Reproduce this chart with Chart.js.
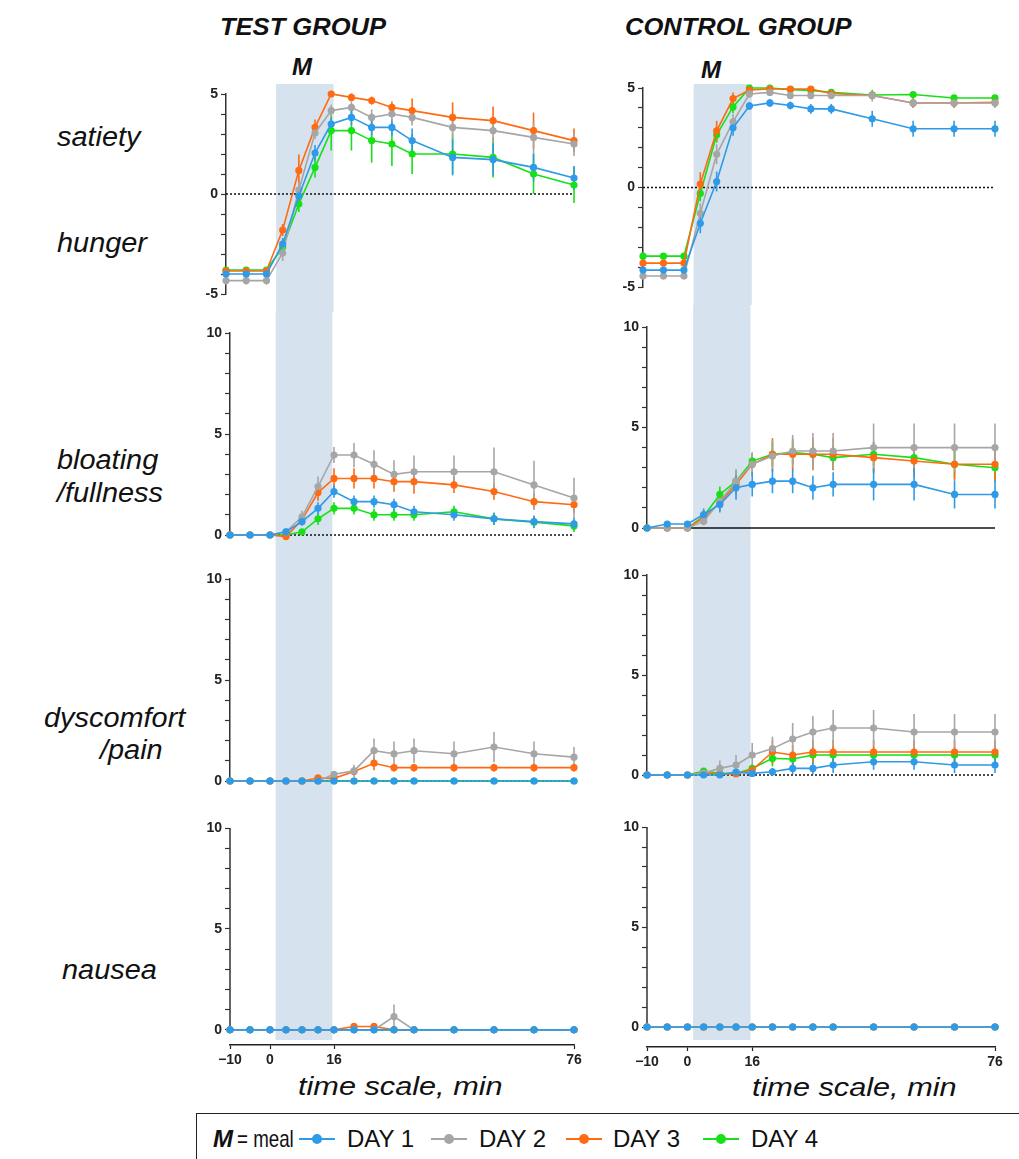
<!DOCTYPE html>
<html><head><meta charset="utf-8">
<script src="https://cdn.jsdelivr.net/npm/chart.js@4.4.0/dist/chart.umd.min.js"></script>
<style>
html,body{margin:0;padding:0;background:#fff;width:1019px;height:1159px;overflow:hidden;position:relative;font-family:"Liberation Sans",Arial,sans-serif;color:#111;}
canvas{position:absolute;}
.t{position:absolute;white-space:nowrap;line-height:1;transform-origin:0 50%;}
.lbl{font-style:italic;font-size:27px;transform:translateY(-50%) scaleX(1.07);}
.title{font-style:italic;font-weight:bold;font-size:23px;transform:translateY(-50%) scaleX(1.11);}
.m{font-style:italic;font-weight:bold;font-size:24px;transform:translateY(-50%);}
.ax{font-style:italic;font-size:26px;transform:translateY(-50%) scaleX(1.18);}
#legend{position:absolute;left:196px;top:1113px;width:840px;height:52px;border:1.5px solid #222;box-sizing:border-box;}
.leg{font-size:24px;transform:translateY(-50%);}
.meal{font-size:24px;transform:translateY(-50%) scaleX(0.78);}
.sym{position:absolute;height:2px;width:36px;transform:translateY(-50%);}
.sym i{position:absolute;left:13px;top:-4px;width:10px;height:10px;border-radius:50%;}
</style></head><body>
<div class="t title" style="left:220px;top:27px;">TEST GROUP</div>
<div class="t title" style="left:625px;top:27px;">CONTROL GROUP</div>
<div class="t m" style="left:292px;top:67px;">M</div>
<div class="t m" style="left:701px;top:70px;">M</div>
<div class="t lbl" style="left:57px;top:137px;">satiety</div>
<div class="t lbl" style="left:57px;top:243px;">hunger</div>
<div class="t lbl" style="left:57px;top:460px;">bloating</div>
<div class="t lbl" style="left:57px;top:493px;">/fullness</div>
<div class="t lbl" style="left:44px;top:718px;">dyscomfort</div>
<div class="t lbl" style="left:100px;top:750px;">/pain</div>
<div class="t lbl" style="left:62px;top:970px;">nausea</div>
<div class="t ax" style="left:298px;top:1086px;">time scale, min</div>
<div class="t ax" style="left:752px;top:1087px;">time scale, min</div>
<div id="legend"></div>

<canvas id="c0"></canvas><canvas id="c1"></canvas><canvas id="c2"></canvas><canvas id="c3"></canvas>
<canvas id="c4"></canvas><canvas id="c5"></canvas><canvas id="c6"></canvas><canvas id="c7"></canvas>
<script>
// ---------------- DATA ----------------
const times = [-10, -5, 0, 4, 8, 12, 16, 21, 26, 31, 36, 46, 56, 66, 76];
const xTickValues = [-10, 0, 16, 76];
const xTickLabels = ['\u221210', '0', '16', '76'];
const satietyTicks = [-5, 0, 5];
const scoreTicks = [0, 5, 10];
const dayLabels = ['DAY 1', 'DAY 2', 'DAY 3', 'DAY 4'];
const mealWindow = [1.4, 15.6];

// TEST GROUP – satiety / hunger
const testSatD1 = [-4.0,-4.0,-4.0,-2.5,-0.1,2.05,3.5,3.83,3.33,3.33,2.67,1.83,1.72,1.33,0.8];
const testSatD1e = [0.2,0.2,0.2,0.3,0.3,0.4,0.3,0.4,0.4,0.4,0.6,0.9,0.8,0.7,0.6];
const testSatD2 = [-4.33,-4.33,-4.33,-2.95,0.2,3.05,4.17,4.33,3.83,4.0,3.83,3.33,3.17,2.83,2.5];
const testSatD2e = [0.2,0.2,0.2,0.4,0.4,0.3,0.3,0.3,0.4,0.3,0.4,0.6,0.6,0.8,0.6];
const testSatD3 = [-3.85,-3.85,-3.85,-1.8,1.18,3.33,5.0,4.83,4.67,4.33,4.17,3.83,3.67,3.17,2.67];
const testSatD3e = [0.1,0.1,0.1,0.3,0.8,0.4,0.1,0.2,0.2,0.3,0.6,0.75,0.7,0.9,0.6];
const testSatD4 = [-3.8,-3.8,-3.8,-2.65,-0.5,1.33,3.17,3.17,2.67,2.5,2.0,2.0,1.83,1.0,0.45];
const testSatD4e = [0.1,0.1,0.1,0.3,0.4,0.5,1.0,1.0,1.1,1.1,1.0,1.0,1.0,1.0,0.9];
// CONTROL GROUP – satiety / hunger
const ctrlSatD1 = [-4.15,-4.15,-4.15,-1.8,0.3,3.0,4.1,4.25,4.12,3.95,3.95,3.45,2.95,2.95,2.95];
const ctrlSatD1e = [0.15,0.15,0.15,0.5,0.5,0.4,0.2,0.2,0.2,0.25,0.25,0.4,0.4,0.4,0.4];
const ctrlSatD2 = [-4.45,-4.45,-4.45,-1.3,1.67,3.3,4.7,4.78,4.62,4.62,4.62,4.62,4.25,4.25,4.25];
const ctrlSatD2e = [0.1,0.1,0.1,0.5,0.5,0.4,0.2,0.15,0.15,0.15,0.15,0.3,0.25,0.25,0.25];
const ctrlSatD3 = [-3.8,-3.8,-3.8,0.17,2.85,4.47,4.9,4.95,4.95,4.95,4.72,4.62,4.25,4.25,4.28];
const ctrlSatD3e = [0.1,0.1,0.1,0.6,0.5,0.3,0.1,0.1,0.1,0.1,0.1,0.2,0.25,0.25,0.25];
const ctrlSatD4 = [-3.45,-3.45,-3.45,-0.3,2.65,4.05,5.0,5.0,4.92,4.88,4.78,4.65,4.67,4.5,4.5];
const ctrlSatD4e = [0.1,0.1,0.1,0.4,0.4,0.3,0.1,0.1,0.1,0.1,0.1,0.1,0.1,0.1,0.1];
// TEST GROUP – bloating / fullness
const testBloD1 = [0,0,0,0.16,0.66,1.32,2.15,1.65,1.65,1.5,1.15,1.0,0.8,0.66,0.55];
const testBloD1e = [0,0,0,0.1,0.2,0.3,0.3,0.3,0.3,0.3,0.3,0.3,0.3,0.3,0.3];
const testBloD2 = [0,0,0,0.16,0.9,2.4,3.96,3.96,3.5,3.0,3.13,3.13,3.13,2.48,1.83];
const testBloD2e = [0,0,0,0.1,0.3,0.5,0.4,0.6,0.7,0.7,0.8,0.8,1.2,1.2,1.0];
const testBloD3 = [0,0,0,-0.08,0.75,2.1,2.8,2.8,2.8,2.64,2.64,2.48,2.15,1.65,1.5];
const testBloD3e = [0,0,0,0.05,0.2,0.4,0.5,0.5,0.5,0.5,0.6,0.4,0.4,0.4,0.4];
const testBloD4 = [0,0,0,0,0.16,0.8,1.32,1.32,1.0,1.0,1.0,1.15,0.8,0.63,0.45];
const testBloD4e = [0,0,0,0,0.1,0.3,0.3,0.3,0.3,0.3,0.3,0.3,0.3,0.3,0.3];
// CONTROL GROUP – bloating / fullness
const ctrlBloD1 = [0,0.2,0.2,0.67,1.17,2.0,2.17,2.33,2.33,2.0,2.17,2.17,2.17,1.67,1.67];
const ctrlBloD1e = [0,0.1,0.1,0.3,0.4,0.6,0.6,0.6,0.6,0.6,0.6,0.8,0.8,0.7,0.7];
const ctrlBloD2 = [0,0,0,0.33,1.33,2.33,3.17,3.58,3.83,3.83,3.83,4.0,4.0,4.0,4.0];
const ctrlBloD2e = [0,0,0,0.2,0.5,0.6,0.6,0.8,0.8,0.9,0.9,1.2,1.2,1.2,1.2];
const ctrlBloD3 = [0,0,0,0.5,1.25,2.17,3.17,3.67,3.67,3.67,3.67,3.5,3.33,3.17,3.17];
const ctrlBloD3e = [0,0,0,0.3,0.4,0.5,0.5,0.8,0.8,0.8,0.8,0.8,0.8,0.8,0.8];
const ctrlBloD4 = [0,0,0,0.58,1.67,2.33,3.33,3.67,3.75,3.67,3.5,3.67,3.5,3.17,3.0];
const ctrlBloD4e = [0,0,0,0.3,0.4,0.5,0.4,0.6,0.6,0.6,0.6,0.6,0.6,0.7,0.7];
// TEST GROUP – dyscomfort / pain
const testPainD1 = [0,0,0,0,0,0,0,0,0,0,0,0,0,0,0];
const testPainD1e = [0,0,0,0,0,0,0,0,0,0,0,0,0,0,0];
const testPainD2 = [0,0,0,0,0,0,0.33,0.5,1.5,1.35,1.5,1.35,1.68,1.35,1.18];
const testPainD2e = [0,0,0,0,0,0,0.15,0.3,0.6,0.6,0.6,0.6,0.75,0.6,0.5];
const testPainD3 = [0,0,0,0,0,0.15,0.13,0.47,0.88,0.66,0.66,0.66,0.66,0.66,0.66];
const testPainD3e = [0,0,0,0,0,0.1,0.1,0.2,0.35,0.2,0.2,0.2,0.2,0.2,0.2];
const testPainD4 = [0,0,0,0,0,0,0,0,0,0,0,0,0,0,0];
const testPainD4e = [0,0,0,0,0,0,0,0,0,0,0,0,0,0,0];
// CONTROL GROUP – dyscomfort / pain
const ctrlPainD1 = [0,0,0,0,0,0.15,0.08,0.16,0.33,0.33,0.5,0.66,0.66,0.5,0.5];
const ctrlPainD1e = [0,0,0,0,0,0.1,0.1,0.2,0.3,0.3,0.4,0.4,0.4,0.4,0.4];
const ctrlPainD2 = [0,0,0,0.1,0.33,0.5,1.0,1.32,1.8,2.15,2.35,2.35,2.15,2.15,2.15];
const ctrlPainD2e = [0,0,0,0.1,0.4,0.5,0.6,0.6,0.8,0.8,0.9,0.9,0.9,0.9,0.9];
const ctrlPainD3 = [0,0,0,0.1,0.05,0.05,0.25,1.15,1.0,1.15,1.15,1.15,1.15,1.15,1.15];
const ctrlPainD3e = [0,0,0,0.05,0.05,0.05,0.1,0.6,0.5,0.6,0.6,0.6,0.6,0.6,0.6];
const ctrlPainD4 = [0,0,0,0.2,0.08,0.08,0.33,0.83,0.8,1.0,1.0,1.0,1.0,1.0,1.0];
const ctrlPainD4e = [0,0,0,0.1,0.1,0.1,0.2,0.4,0.4,0.4,0.4,0.4,0.4,0.4,0.4];
// TEST GROUP – nausea
const testNauD1 = [0,0,0,0,0,0,0,0,0,0,0,0,0,0,0];
const testNauD1e = [0,0,0,0,0,0,0,0,0,0,0,0,0,0,0];
const testNauD2 = [0,0,0,0,0,0,0,0,0,0.66,0,0,0,0,0];
const testNauD2e = [0,0,0,0,0,0,0,0,0,0.6,0,0,0,0,0];
const testNauD3 = [0,0,0,0,0,0,0,0.17,0.17,0,0,0,0,0,0];
const testNauD3e = [0,0,0,0,0,0,0,0,0,0,0,0,0,0,0];
const testNauD4 = [0,0,0,0,0,0,0,0,0,0,0,0,0,0,0];
const testNauD4e = [0,0,0,0,0,0,0,0,0,0,0,0,0,0,0];
// CONTROL GROUP – nausea
const ctrlNauD1 = [0,0,0,0,0,0,0,0,0,0,0,0,0,0,0];
const ctrlNauD1e = [0,0,0,0,0,0,0,0,0,0,0,0,0,0,0];
const ctrlNauD2 = [0,0,0,0,0,0,0,0,0,0,0,0,0,0,0];
const ctrlNauD2e = [0,0,0,0,0,0,0,0,0,0,0,0,0,0,0];
const ctrlNauD3 = [0,0,0,0,0,0,0,0,0,0,0,0,0,0,0];
const ctrlNauD3e = [0,0,0,0,0,0,0,0,0,0,0,0,0,0,0];
const ctrlNauD4 = [0,0,0,0,0,0,0,0,0,0,0,0,0,0,0];
const ctrlNauD4e = [0,0,0,0,0,0,0,0,0,0,0,0,0,0,0];

// ---------------- STYLE ----------------
const dayColors = ['#2f9ae8', '#a6a6a6', '#ff6a12', '#16e016'];
const SHADE = '#d6e2ee';
const FONT = '"Liberation Sans", Arial, sans-serif';

// ---------------- LAYOUT ----------------
const panels = [
  {id:'c0', left:176, top:60,  w:424, h:252, pt:34, pb:18, pr:26, yMin:-5, yMax:5, ticks:satietyTicks, series:[[testSatD1,testSatD1e],[testSatD2,testSatD2e],[testSatD3,testSatD3e],[testSatD4,testSatD4e]], zero:'dot', shadeTop:24, shadeDx:4},
  {id:'c1', left:180, top:312, w:420, h:246, pt:21, pb:23, pr:26, yMin:0, yMax:10, ticks:scoreTicks, series:[[testBloD1,testBloD1e],[testBloD2,testBloD2e],[testBloD3,testBloD3e],[testBloD4,testBloD4e]], zero:'dot'},
  {id:'c2', left:180, top:558, w:420, h:247, pt:21, pb:24, pr:26, yMin:0, yMax:10, ticks:scoreTicks, series:[[testPainD1,testPainD1e],[testPainD2,testPainD2e],[testPainD3,testPainD3e],[testPainD4,testPainD4e]], zero:'dot'},
  {id:'c3', left:180, top:805, w:420, h:275, pt:23, pb:5, pr:26, yMin:-0.75, yMax:10, ticks:scoreTicks, series:[[testNauD1,testNauD1e],[testNauD2,testNauD2e],[testNauD3,testNauD3e],[testNauD4,testNauD4e]], xAxis:true, shadeBottom:235},
  {id:'c4', left:593, top:55,  w:426, h:250, pt:33, pb:18, pr:24, yMin:-5, yMax:5, ticks:satietyTicks, series:[[ctrlSatD1,ctrlSatD1e],[ctrlSatD2,ctrlSatD2e],[ctrlSatD3,ctrlSatD3e],[ctrlSatD4,ctrlSatD4e]], zero:'dot', shadeTop:29, shadeDx:4},
  {id:'c5', left:597, top:305, w:422, h:247, pt:22, pb:24, pr:24, yMin:0, yMax:10, ticks:scoreTicks, series:[[ctrlBloD1,ctrlBloD1e],[ctrlBloD2,ctrlBloD2e],[ctrlBloD3,ctrlBloD3e],[ctrlBloD4,ctrlBloD4e]], zero:'solid'},
  {id:'c6', left:597, top:552, w:422, h:248, pt:23, pb:25, pr:24, yMin:0, yMax:10, ticks:scoreTicks, series:[[ctrlPainD1,ctrlPainD1e],[ctrlPainD2,ctrlPainD2e],[ctrlPainD3,ctrlPainD3e],[ctrlPainD4,ctrlPainD4e]], zero:'dot'},
  {id:'c7', left:597, top:800, w:422, h:280, pt:27, pb:3, pr:24, yMin:-1.0, yMax:10, ticks:scoreTicks, series:[[ctrlNauD1,ctrlNauD1e],[ctrlNauD2,ctrlNauD2e],[ctrlNauD3,ctrlNauD3e],[ctrlNauD4,ctrlNauD4e]], xAxis:true, shadeBottom:240}
];

const overlay = {
  id: 'overlay',
  beforeDatasetsDraw(chart, args, o) {
    const {ctx, chartArea, scales: {x, y}} = chart;
    ctx.save();
    const dx = o.shadeDx || 0;
    const x0 = x.getPixelForValue(mealWindow[0]) + dx, x1 = x.getPixelForValue(mealWindow[1]) + dx;
    const top = o.shadeTop != null ? o.shadeTop : 0;
    const bottom = o.shadeBottom != null ? o.shadeBottom : chart.height;
    ctx.fillStyle = SHADE;
    ctx.fillRect(x0, top, x1 - x0, bottom - top);
    if (o.zero) {
      ctx.beginPath();
      ctx.strokeStyle = '#111';
      ctx.lineWidth = o.zero === 'solid' ? 1.3 : 1.5;
      ctx.setLineDash(o.zero === 'solid' ? [] : [2, 2]);
      const yz = y.getPixelForValue(0);
      ctx.moveTo(x.getPixelForValue(times[0]), yz);
      ctx.lineTo(x.getPixelForValue(times[times.length - 1]), yz);
      ctx.stroke();
      ctx.setLineDash([]);
    }
    if (o.yLine) {
      ctx.beginPath();
      ctx.strokeStyle = '#333';
      ctx.lineWidth = 1.5;
      ctx.moveTo(chartArea.left, y.getPixelForValue(0));
      ctx.lineTo(chartArea.left, y.getPixelForValue(10));
      ctx.stroke();
    }
    const ds = chart.data.datasets;
    for (let i = ds.length - 1; i >= 0; i--) {
      const d = ds[i];
      ctx.strokeStyle = d.borderColor;
      ctx.lineWidth = 1.6;
      d.data.forEach((pt, j) => {
        const e = d.errors[j];
        if (!e) return;
        const px = x.getPixelForValue(pt.x);
        ctx.beginPath();
        ctx.moveTo(px, y.getPixelForValue(pt.y - e));
        ctx.lineTo(px, y.getPixelForValue(pt.y + e));
        ctx.stroke();
      });
    }
    ctx.restore();
  }
};

panels.forEach(p => {
  const cv = document.getElementById(p.id);
  cv.width = p.w; cv.height = p.h;
  cv.style.left = p.left + 'px'; cv.style.top = p.top + 'px';
  const yTickVals = [];
  for (let v = Math.ceil(Math.max(p.yMin, p.ticks[0])); v <= p.yMax; v++) yTickVals.push(v);
  const datasets = p.series.map((s, k) => ({
    label: dayLabels[k],
    data: times.map((t, j) => ({x: t, y: s[0][j]})),
    errors: s[1],
    borderColor: dayColors[k],
    backgroundColor: dayColors[k],
    pointBackgroundColor: dayColors[k],
    pointBorderWidth: 0,
    pointRadius: 3.6,
    borderWidth: 1.6,
    tension: 0,
    clip: false
  }));
  new Chart(cv, {
    type: 'line',
    data: {datasets},
    options: {
      responsive: false,
      animation: false,
      events: [],
      layout: {padding: {left: 0, right: p.pr, top: p.pt, bottom: p.pb}},
      plugins: {
        legend: {display: false},
        tooltip: {enabled: false},
        overlay: {zero: p.zero, shadeTop: p.shadeTop, shadeBottom: p.shadeBottom, shadeDx: p.shadeDx, yLine: !!p.xAxis}
      },
      scales: {
        x: {
          type: 'linear',
          min: times[0], max: times[times.length - 1],
          display: !!p.xAxis,
          position: 'bottom',
          afterFit: s => { s.height = p.xAxis ? 30 : 0; },
          afterBuildTicks: s => { s.ticks = xTickValues.map(v => ({value: v})); },
          ticks: {
            autoSkip: false, maxRotation: 0, padding: 3,
            callback: (v) => xTickLabels[xTickValues.indexOf(v)],
            font: {family: FONT, size: 14, weight: 'bold'}, color: '#222'
          },
          grid: {drawOnChartArea: false, drawTicks: true, tickLength: 4, tickColor: '#222', tickWidth: 1.2},
          border: {display: true, color: '#222', width: 1.4}
        },
        y: {
          type: 'linear',
          min: p.yMin, max: p.yMax,
          afterFit: s => { s.width = 50; },
          afterBuildTicks: s => { s.ticks = yTickVals.map(v => ({value: v})); },
          ticks: {
            autoSkip: false, padding: 3,
            callback: (v) => p.ticks.includes(v) ? String(v) : '',
            font: {family: FONT, size: 14, weight: 'bold'}, color: '#222'
          },
          grid: {drawOnChartArea: false, drawTicks: true, tickLength: 5, tickColor: '#333', tickWidth: 1.2},
          border: {display: !p.xAxis, color: '#333', width: 1.5}
        }
      }
    },
    plugins: [overlay]
  });
});

// ---------------- LEGEND ----------------
const lg = document.getElementById('legend');
const base = 196;
function addText(html, x, cls) {
  const d = document.createElement('div');
  d.className = 't ' + cls;
  d.style.left = (x - base) + 'px';
  d.style.top = '25px';
  d.innerHTML = html;
  lg.appendChild(d);
}
addText('M', 212, 'm');
addText('= meal', 236, 'meal');
const symX = [298, 430, 565, 702];
const txtX = [346, 478, 612, 750];
dayLabels.forEach((lab, k) => {
  const s = document.createElement('div');
  s.className = 'sym';
  s.style.left = (symX[k] - base) + 'px';
  s.style.top = '25px';
  s.style.background = dayColors[k];
  const dot = document.createElement('i');
  dot.style.background = dayColors[k];
  s.appendChild(dot);
  lg.appendChild(s);
  addText(lab, txtX[k], 'leg');
});
</script>
</body></html>
